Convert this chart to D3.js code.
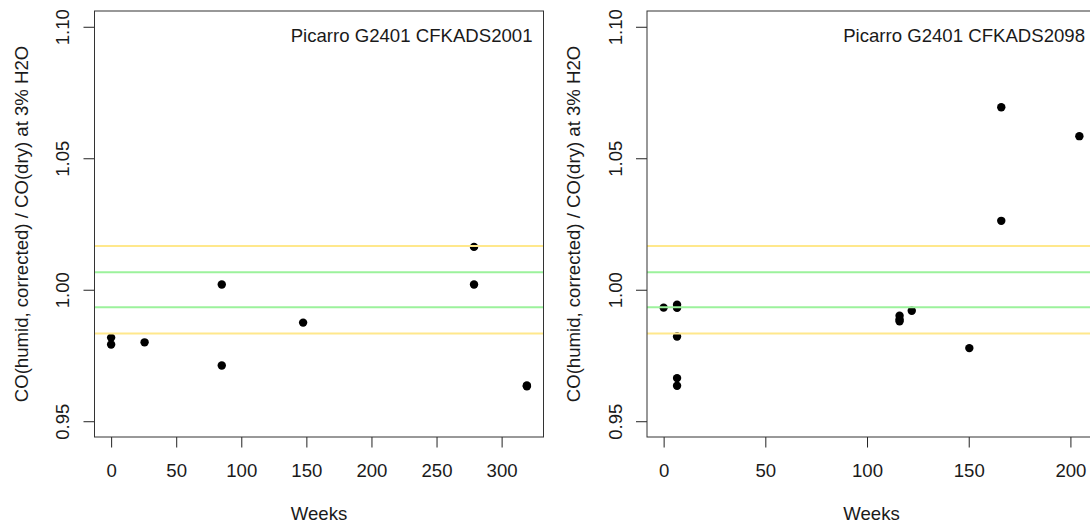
<!DOCTYPE html>
<html>
<head>
<meta charset="utf-8">
<script src="https://cdn.jsdelivr.net/npm/d3@7"></script>
<style>
  html, body { margin: 0; padding: 0; background: #fff; }
  svg { display: block; }
  text { font-family: "Liberation Sans", Arial, sans-serif; fill: #1a1a1a; }
</style>
</head>
<body>
<svg id="chart" width="1090" height="527"></svg>
<script>
// Humidity-correction check for two Picarro G2401 analysers
const instrumentA = "Picarro G2401 CFKADS2001";
const weeksA = [0, 0, 25.7, 85, 85, 147.5, 278.8, 278.8, 319.4, 319.4];
const ratioA = [0.9818, 0.9792, 0.9800, 1.0020, 0.9712, 0.9875, 1.0163, 1.0020, 0.9636, 0.9633];

const instrumentB = "Picarro G2401 CFKADS2098";
const weeksB = [0, 6.6, 6.6, 6.6, 6.6, 6.6, 116, 116, 116, 122, 150.3, 166, 166, 204.4];
const ratioB = [0.9932, 0.9943, 0.9931, 0.9822, 0.9664, 0.9635, 0.9901, 0.9887, 0.9880, 0.9920, 0.9778, 1.0694, 1.0262, 1.0584];

// Compatibility bands: ±2 ppb (green) and ±5 ppb (yellow) at 300 ppb CO
const greenLimits = [1 - 2 / 300, 1 + 2 / 300];
const yellowLimits = [1 - 5 / 300, 1 + 5 / 300];

const yTicks = [0.95, 1.00, 1.05, 1.10];
const yLimits = [0.95, 1.10];
const xTicksA = [0, 50, 100, 150, 200, 250, 300];
const xTicksB = [0, 50, 100, 150, 200];

const yLabel = "CO(humid, corrected) / CO(dry) at 3% H2O";
const xLabel = "Weeks";

const svg = d3.select("#chart");
const FONT = 18.6;
const plotTop = 11, plotBottom = 437;

// R-style 4% range extension
function pad(lo, hi) {
  const p = (hi - lo) * 0.04;
  return [lo - p, hi + p];
}

function panel(idx, left, right, weeks, ratio, xTicks, title) {
  const g = svg.append("g");
  const x = d3.scaleLinear().domain(pad(0, d3.max(weeks))).range([left, right]);
  const y = d3.scaleLinear().domain(pad(yLimits[0], yLimits[1])).range([plotBottom, plotTop]);

  const clipId = "clip" + idx;
  g.append("clipPath").attr("id", clipId)
    .append("rect").attr("x", left).attr("y", plotTop)
    .attr("width", right - left).attr("height", plotBottom - plotTop);

  const plot = g.append("g").attr("clip-path", `url(#${clipId})`);

  // observations
  plot.selectAll("circle").data(weeks.map((w, i) => [w, ratio[i]]))
    .join("circle")
    .attr("cx", d => x(d[0]))
    .attr("cy", d => y(d[1]))
    .attr("r", 4.2)
    .attr("fill", "#000");

  // reference lines drawn on top of the points
  const refs = [
    ...yellowLimits.map(v => ({ v, c: "#ffe88c" })),
    ...greenLimits.map(v => ({ v, c: "#9cf29c" }))
  ];
  plot.selectAll("line.ref").data(refs).join("line")
    .attr("class", "ref")
    .attr("x1", left).attr("x2", right)
    .attr("y1", d => y(d.v)).attr("y2", d => y(d.v))
    .attr("stroke", d => d.c).attr("stroke-width", 2);

  // y axis
  const ya = g.append("g").attr("transform", `translate(${left},0)`)
    .call(d3.axisLeft(y).tickValues(yTicks).tickSize(11).tickFormat(d3.format(".2f")));
  ya.select(".domain").remove();
  ya.selectAll("line").attr("stroke", "#222");
  ya.selectAll("text")
    .attr("x", 0).attr("dy", null)
    .attr("transform", "translate(-25.5,0) rotate(-90)")
    .attr("text-anchor", "middle")
    .attr("font-size", FONT).attr("font-family", null).attr("fill", null);

  // x axis
  const xa = g.append("g").attr("transform", `translate(0,${plotBottom})`)
    .call(d3.axisBottom(x).tickValues(xTicks).tickSize(10.5).tickFormat(d3.format("d")));
  xa.select(".domain").remove();
  xa.selectAll("line").attr("stroke", "#222");
  xa.selectAll("text")
    .attr("y", 39.5).attr("dy", null)
    .attr("font-size", FONT).attr("font-family", null).attr("fill", null);

  // frame
  g.append("rect")
    .attr("x", left).attr("y", plotTop)
    .attr("width", right - left).attr("height", plotBottom - plotTop)
    .attr("fill", "none").attr("stroke", "#333").attr("stroke-width", 1);

  // titles
  g.append("text")
    .attr("x", right - 11).attr("y", 41.7)
    .attr("text-anchor", "end").attr("font-size", FONT)
    .text(title);

  g.append("text")
    .attr("x", (left + right) / 2).attr("y", 520)
    .attr("text-anchor", "middle").attr("font-size", FONT)
    .text(xLabel);

  g.append("text")
    .attr("transform", `translate(${left - 67},${(plotTop + plotBottom) / 2}) rotate(-90)`)
    .attr("text-anchor", "middle").attr("font-size", FONT)
    .text(yLabel);
}

panel(0, 94.5, 543.5, weeksA, ratioA, xTicksA, instrumentA);
panel(1, 647, 1096, weeksB, ratioB, xTicksB, instrumentB);
</script>
</body>
</html>
